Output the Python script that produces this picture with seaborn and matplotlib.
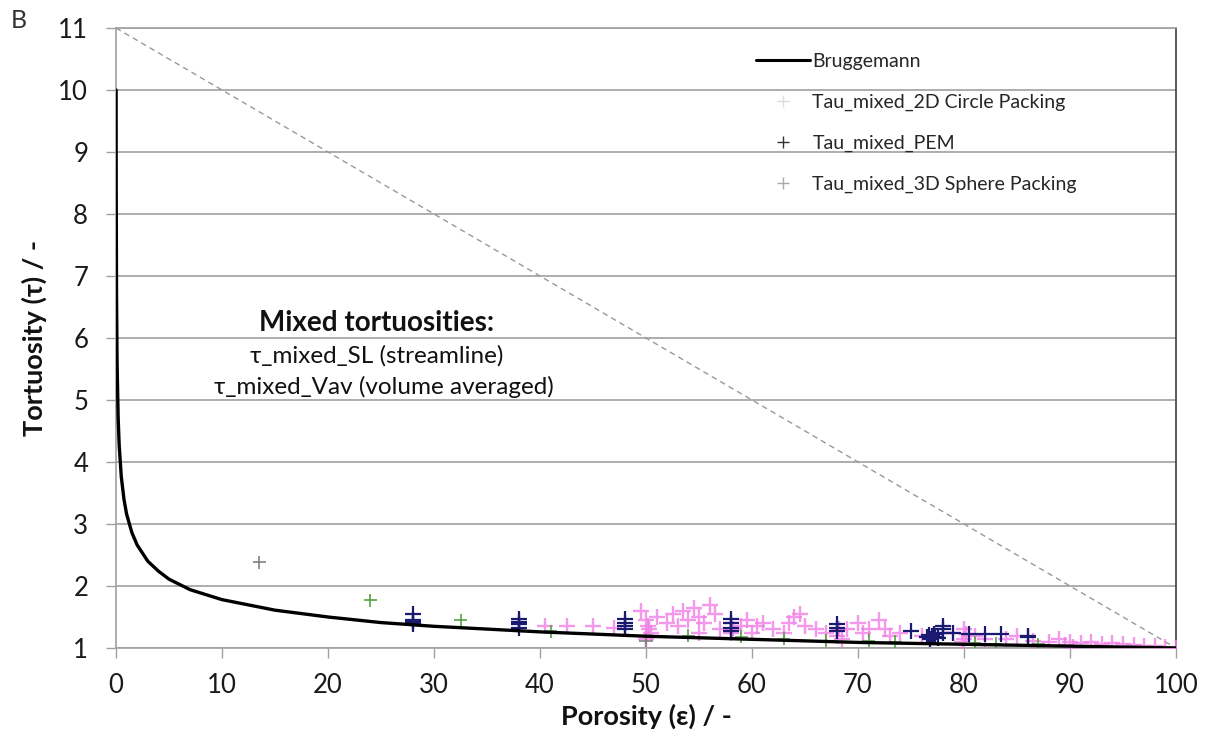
import matplotlib
matplotlib.use("Agg")
import matplotlib.pyplot as plt
import seaborn as sns
import pandas as pd
from matplotlib.lines import Line2D

# Bruggemann curve
brug_x = [0.01, 0.02, 0.05, 0.1, 0.2, 0.3, 0.5, 0.75, 1, 1.5, 2, 3, 4, 5, 7, 10, 15, 20, 25, 30, 40, 50, 60, 70, 80, 90, 100]
brug_y = [10.0, 8.41, 6.69, 5.62, 4.73, 4.27, 3.76, 3.40, 3.16, 2.86, 2.66, 2.40, 2.24, 2.11, 1.94, 1.78, 1.61, 1.50, 1.41, 1.35, 1.26, 1.19, 1.14, 1.09, 1.06, 1.03, 1.00]

# Reference dashed line
ref_x = [0, 100]
ref_y = [11, 1]

# Tau_mixed_2D Circle Packing (pink)
circ_x = [40.5, 42.5, 45, 47, 49.5, 50, 50.2, 50.5, 50, 50, 51, 52, 52.5, 53, 53.5, 54, 54.5, 55, 55.5, 56, 56.5, 57, 55,
          58, 58, 59, 59.5, 60, 61, 62, 63, 63.5, 64, 64.5, 65, 66, 67, 68, 69, 70, 70.5, 71, 72, 72.5, 73, 74, 76,
          79, 80, 80, 81, 82, 84, 85, 86.5, 88, 89, 89.5, 90, 91, 92, 93, 94, 95, 96, 97, 98, 99, 100,
          50.3, 58.2, 60.5, 68.2, 68.5, 80.2, 79.8, 90.3]
circ_y = [1.35, 1.35, 1.35, 1.33, 1.6, 1.45, 1.35, 1.25, 1.15, 1.2, 1.5, 1.4, 1.55, 1.35, 1.6, 1.45, 1.65, 1.5, 1.4, 1.7, 1.55, 1.3, 1.25,
          1.25, 1.4, 1.35, 1.45, 1.25, 1.4, 1.3, 1.25, 1.4, 1.5, 1.55, 1.35, 1.3, 1.25, 1.2, 1.3, 1.4, 1.25, 1.3, 1.45, 1.3, 1.2, 1.25, 1.2,
          1.25, 1.3, 1.15, 1.2, 1.15, 1.15, 1.2, 1.12, 1.1, 1.15, 1.05, 1.1, 1.08, 1.1, 1.07, 1.08, 1.06, 1.05, 1.04, 1.03, 1.02, 1.0,
          1.3, 1.3, 1.35, 1.3, 1.15, 1.22, 1.1, 1.02]

# Tau_mixed_PEM (navy)
pem_x = [28, 28, 28, 28, 38, 38, 38, 38, 48, 48, 48, 48, 58, 58, 58, 58, 68, 68, 68, 75,
         76.5, 76.8, 77, 77.2, 77.5, 76.7, 77.3, 78, 78, 78, 79, 80.5, 82, 83.5, 86, 86]
pem_y = [1.38, 1.42, 1.45, 1.55, 1.33, 1.38, 1.42, 1.47, 1.30, 1.35, 1.40, 1.47, 1.28, 1.33, 1.40, 1.47, 1.28, 1.33, 1.38, 1.27,
         1.17, 1.15, 1.2, 1.22, 1.16, 1.21, 1.18, 1.25, 1.3, 1.35, 1.25, 1.22, 1.22, 1.22, 1.17, 1.2]

# Tau_mixed_3D Sphere Packing (gray / green)
sph_x = [13.5, 50, 24, 32.5, 41, 54, 59, 63, 67, 71, 73.5, 81, 83, 87]
sph_y = [2.38, 1.12, 1.77, 1.45, 1.27, 1.2, 1.18, 1.15, 1.12, 1.12, 1.10, 1.08, 1.07, 1.06]
sph_kind = ["gray", "gray", "green", "green", "green", "green", "green", "green", "green", "green", "green", "green", "green", "green"]

legend_labels = ["Bruggemann", "Tau_mixed_2D Circle Packing", "Tau_mixed_PEM", "Tau_mixed_3D Sphere Packing"]

sns.set_theme(style="white")
plt.rcParams['font.family'] = ['Lato', 'DejaVu Sans']

fig = plt.figure(figsize=(12.08, 7.42), dpi=100)
ax = fig.add_axes([116/1208, 1 - 648/742, (1176-116)/1208, (648-28)/742])

ax.set_xlim(0, 100)
ax.set_ylim(1, 11)
ax.set_yticks(range(1, 12))
ax.set_xticks(range(0, 101, 10))
ax.yaxis.grid(True, color="#a0a0a0", linewidth=1.2)
ax.xaxis.grid(False)
ax.set_axisbelow(True)

sns.lineplot(x=ref_x, y=ref_y, ax=ax, color="#999999", linewidth=1.0, linestyle=(0, (4, 3)))

circ_df = pd.DataFrame({"x": circ_x, "y": circ_y})
sns.scatterplot(data=circ_df, x="x", y="y", ax=ax, marker="+", s=140, color="#f07ee6", linewidth=1.7, alpha=0.8, zorder=3)
sph_df = pd.DataFrame({"x": sph_x, "y": sph_y, "k": sph_kind})
sns.scatterplot(data=sph_df, x="x", y="y", hue="k", palette={"gray": "#808080", "green": "#55a044"}, ax=ax,
                marker="+", s=90, linewidth=1.2, legend=False, zorder=3)
pem_df = pd.DataFrame({"x": pem_x, "y": pem_y})
sns.scatterplot(data=pem_df, x="x", y="y", ax=ax, marker="+", s=140, color="#1a1a70", linewidth=1.6, zorder=4)

sns.lineplot(x=brug_x, y=brug_y, ax=ax, color="black", linewidth=2.4, zorder=5)

for s in ["left", "bottom", "top"]:
    ax.spines[s].set_color("#a0a0a0")
    ax.spines[s].set_linewidth(1.2)
ax.spines["right"].set_color("#404040")
ax.spines["right"].set_linewidth(1.2)

ax.tick_params(axis="both", which="major", direction="out", length=7, width=1, color="#a0a0a0",
               labelsize=18.5, labelcolor="#1a1a1a", bottom=True, left=True)
ax.tick_params(axis="x", pad=11)
ax.tick_params(axis="y", pad=13)
ax.set_xlabel("Porosity (ε) / -", fontsize=19.5, fontweight="bold", labelpad=4, color="#111111")
ax.set_ylabel("Tortuosity (τ) / -", fontsize=19.5, fontweight="bold", labelpad=8, color="#111111")

# legend
handles = [
    Line2D([], [], color="black", linewidth=2.2),
    Line2D([], [], color="#dddddd", marker="+", linestyle="none", markersize=9),
    Line2D([], [], color="#333333", marker="+", linestyle="none", markersize=9),
    Line2D([], [], color="#aaaaaa", marker="+", linestyle="none", markersize=9),
]
ax.legend(handles, legend_labels, loc="upper left", bbox_to_anchor=(0.596, 0.973), frameon=False, fontsize=14,
          labelspacing=1.23, handlelength=2.8, handletextpad=0.12, borderaxespad=0, numpoints=1)

ax.text(24.6, 6.24, "Mixed tortuosities:", fontsize=20, fontweight="bold", ha="center", va="center", color="#111111")
ax.text(24.6, 5.72, "τ_mixed_SL (streamline)", fontsize=17.5, ha="center", va="center", color="#111111")
ax.text(25.3, 5.21, "τ_mixed_Vav (volume averaged)", fontsize=17.5, ha="center", va="center", color="#111111")

fig.text(19/1208, 1 - 21/742, "B", fontsize=18, ha="center", va="center", color="#333333")

fig.savefig("out.png", dpi=100, facecolor="white")
